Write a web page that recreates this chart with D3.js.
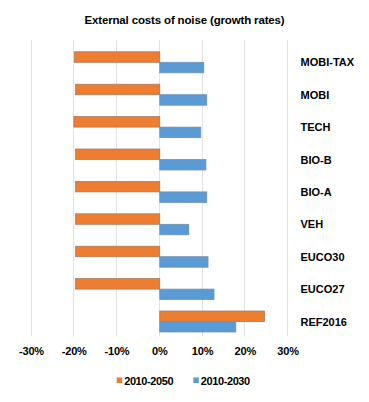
<!DOCTYPE html>
<html><head><meta charset="utf-8">
<script src="https://cdn.jsdelivr.net/npm/d3@7"></script>
<style>body{margin:0;background:#fff}svg{display:block}text{font-family:"Liberation Sans",Arial,sans-serif;font-weight:bold;fill:#000}</style>
</head><body><svg id="c" width="369" height="402"></svg>
<script>
const title = "External costs of noise (growth rates)";
const categories = ["MOBI-TAX","MOBI","TECH","BIO-B","BIO-A","VEH","EUCO30","EUCO27","REF2016"];
const seriesNames = ["2010-2050","2010-2030"];
const s2050 = [-20.0,-19.7,-20.1,-19.7,-19.7,-19.7,-19.7,-19.7,24.5];
const s2030 = [10.3,11.0,9.6,10.8,11.0,6.8,11.3,12.7,17.8];
const ticks = [-30,-20,-10,0,10,20,30];
const colors = ["#ED7D31","#5B9BD5"];
const strokes = ["#a77a5c","#6f8fae"];

const svg = d3.select("#c");
const x = d3.scaleLinear().domain([-30,30]).range([31,287.5]);
const y = d3.scaleBand().domain(categories).range([46.1,337.7]).paddingInner(0).paddingOuter(0);
const gridTop = 40, gridBottom = 336;

svg.append("text").attr("x",184.5).attr("y",24).attr("text-anchor","middle")
  .style("font-size","11.5px").style("letter-spacing","-0.15px").text(title);

svg.append("g").selectAll("line").data(ticks).join("line")
  .attr("x1",d=>x(d)).attr("x2",d=>x(d)).attr("y1",gridTop).attr("y2",gridBottom)
  .attr("stroke","#e3e3e3").attr("stroke-width",1).attr("shape-rendering","crispEdges");

const bh = 10.5;
const data = categories.map((c,i)=>({c, v:[s2050[i], s2030[i]]}));
const g = svg.append("g");
[0,1].forEach(k=>{
  g.selectAll(".b"+k).data(data).join("rect")
    .attr("x",d=>x(Math.min(0,d.v[k]))+0.5)
    .attr("width",d=>Math.abs(x(d.v[k])-x(0)))
    .attr("y",d=>y(d.c)+y.bandwidth()/2 - (k===0?bh:0))
    .attr("height",bh)
    .attr("fill",colors[k]).attr("stroke",strokes[k]).attr("stroke-width",0.75);
});

svg.append("g").selectAll("text").data(categories).join("text")
  .attr("x",300.5).attr("y",d=>y(d)+y.bandwidth()/2+4)
  .style("font-size","11px").style("letter-spacing","0px").text(d=>d);

const xAxis = d3.axisBottom(x).tickValues(ticks).tickSize(0).tickFormat(d=>d+"%");
const ax = svg.append("g").attr("transform","translate(0,344)").call(xAxis);
ax.select(".domain").remove();
ax.selectAll("text").attr("fill","#000").style("font-size","11px").style("letter-spacing","-0.2px")
  .style("font-family","\"Liberation Sans\",Arial,sans-serif").style("font-weight","bold");

const legendX = [116.7,193.3];
const lg = svg.append("g");
seriesNames.forEach((n,i)=>{
  lg.append("rect").attr("x",legendX[i]).attr("y",377.5).attr("width",5.5).attr("height",5.5).attr("fill",colors[i]);
  lg.append("text").attr("x",legendX[i]+7.5).attr("y",384.5).style("font-size","11px").style("letter-spacing","-0.4px").text(n);
});
</script></body></html>
